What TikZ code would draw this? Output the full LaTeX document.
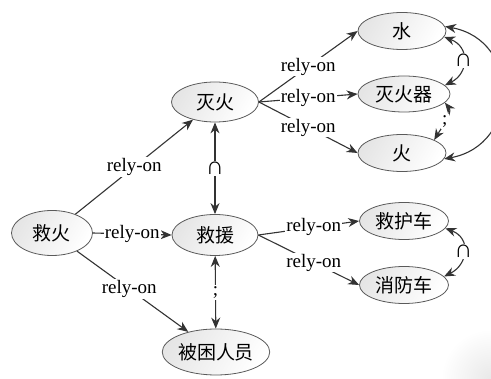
\documentclass[tikz,border=0pt]{standalone}
\usepackage{fontspec}
\setmainfont{Liberation Serif}
\newfontfamily\cjk{Noto Sans CJK SC}
\usetikzlibrary{shapes.geometric,arrows.meta}
\definecolor{edgegray}{HTML}{333333}
\definecolor{rimgray}{HTML}{5A5A5A}
\tikzset{
  concept/.style={ellipse, draw=rimgray, line width=0.8pt, inner sep=0pt,
    left color=black!10, right color=white, shading angle=60,
    font=\cjk\fontsize{19}{19}\selectfont},
  rel/.style={draw=edgegray, line width=1.1pt, -{Stealth[length=11pt,width=9pt]}},
  both/.style={draw=edgegray, line width=1.1pt,
    {Stealth[length=11pt,width=9pt]}-{Stealth[length=11pt,width=9pt]}},
  tag/.style={fill=white, inner sep=1pt, font=\fontsize{19}{19}\selectfont},
  op/.style={fill=white, inner sep=1.5pt, font=\fontsize{19}{19}\selectfont},
  capop/.style={fill=white, inner sep=1pt, font=\fontsize{25}{25}\selectfont}
}
\begin{document}
\begin{tikzpicture}[x=1pt,y=-1pt]
\useasboundingbox (0,0) rectangle (491,379);
% soft shadow in the lower right corner
\shade[inner color=black!9, outer color=white, draw=none]
  (441,329) rectangle (541,429);

% concepts
\node[concept, minimum width=81pt, minimum height=45pt] (jh)  at (52,233)  {救火};
\node[concept, minimum width=87pt, minimum height=40pt] (mh)  at (215,102) {灭火};
\node[concept, minimum width=86pt, minimum height=41pt] (jy)  at (215,235) {救援};
\node[concept, minimum width=106pt, minimum height=46pt] (bk) at (216,352) {被困人员};
\node[concept, minimum width=88pt, minimum height=37pt] (sh)  at (402,31)  {水};
\node[concept, minimum width=92pt, minimum height=36pt] (mhq) at (404,94)  {灭火器};
\node[concept, minimum width=88pt, minimum height=37pt] (hu)  at (402,153) {火};
\node[concept, minimum width=89pt, minimum height=37pt] (jhc) at (404,221) {救护车};
\node[concept, minimum width=89pt, minimum height=37pt] (xfc) at (404,285) {消防车};

% rely-on relations
\draw[rel] (jh) -- node[tag] {rely-on} (mh);
\draw[rel] (jh.east) -- node[tag] {rely-on} (jy.west);
\draw[rel] (jh) -- node[tag, pos=0.47] {rely-on} (bk);
\draw[rel] (mh.east) -- node[tag] {rely-on} (sh.west);
\draw[rel] (mh.east) -- node[tag] {rely-on} (mhq.west);
\draw[rel] (mh.east) -- node[tag] {rely-on} (hu.west);
\draw[rel] (jy.east) -- node[tag, pos=0.55] {rely-on} (jhc.west);
\draw[rel] (jy.east) -- node[tag, pos=0.55] {rely-on} (xfc.west);

% operators between concepts
\draw[both] (mh) -- node[capop] {∩} (jy);
\draw[both] (jy) -- node[op] {;} (bk);
\draw[both] (sh.-8) .. controls +(26,10) and +(24,-12) .. node[capop] {∩} (mhq.12);
\draw[both] (mhq.-12) .. controls +(8,10) and +(6,-10) .. node[op] {;} (hu.22);
\draw[both] (sh.6) .. controls +(76,14) and +(76,-14) .. (hu.-8);
\draw[both] (jhc.-10) .. controls +(26,10) and +(24,-12) .. node[capop] {∩} (xfc.12);
\end{tikzpicture}
\end{document}
